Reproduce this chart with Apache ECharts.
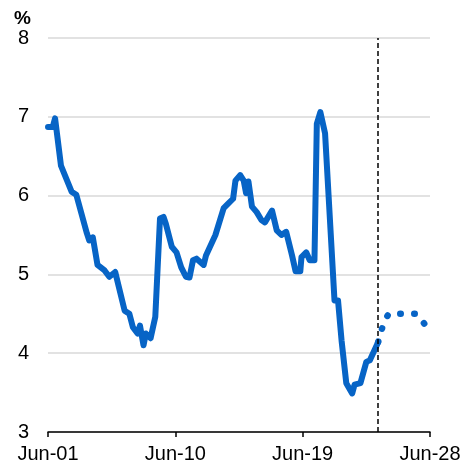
<!DOCTYPE html>
<html>
<head>
<meta charset="utf-8">
<script src="https://cdn.jsdelivr.net/npm/echarts@6/dist/echarts.min.js"></script>
<style>html,body{margin:0;padding:0;background:#fff}#c{width:465px;height:468px}</style>
</head>
<body>
<div id="c"></div>
<script>
// Actual series (month, value %)
var actualDates = ['2001-06','2001-10','2001-12','2002-05','2003-02','2003-06','2004-03','2004-05','2004-08','2004-12',
  '2005-06','2005-10','2006-03','2006-11','2007-03','2007-06','2007-10','2007-12','2008-03','2008-05',
  '2008-09','2009-01','2009-05','2009-08','2009-10','2010-03','2010-07','2010-11','2011-03','2011-06',
  '2011-09','2011-12','2012-06','2012-08','2013-04','2013-11','2014-03','2014-07','2014-09','2015-01',
  '2015-04','2015-06','2015-08','2015-11','2016-03','2016-07','2016-10','2017-04','2017-08','2017-12',
  '2018-04','2018-09','2018-12','2019-04','2019-05','2019-09','2019-12','2020-04','2020-06','2020-09',
  '2021-01','2021-09','2021-12','2022-03','2022-07','2022-12','2023-02','2023-07','2023-12','2024-03','2024-10'];
var actualValues = [6.87,6.87,6.98,6.38,6.05,6.01,5.52,5.43,5.47,5.12,
  5.05,4.97,5.03,4.54,4.50,4.33,4.25,4.35,4.10,4.25,
  4.19,4.46,5.71,5.73,5.64,5.35,5.28,5.09,4.97,4.96,
  5.18,5.20,5.12,5.24,5.50,5.84,5.90,5.96,6.19,6.26,
  6.19,6.03,6.18,5.86,5.79,5.69,5.66,5.81,5.56,5.50,
  5.54,5.24,5.04,5.04,5.22,5.28,5.18,5.18,6.91,7.06,
  6.79,4.67,4.67,4.16,3.62,3.49,3.60,3.62,3.89,3.91,4.14];
// Forecast series
var forecastDates = ['2024-10','2025-01','2025-04','2025-07','2027-06','2028-02'];
var forecastValues = [4.14,4.30,4.43,4.50,4.50,4.36];
// Forecast start marker
var forecastStart = '2024-10';
// Axis ticks
var xTickDates = ['2001-06','2010-06','2019-06','2028-06'];
var xTickLabels = ['Jun-01','Jun-10','Jun-19','Jun-28'];
var yTicks = [3,4,5,6,7,8];

function mIdx(s){var p=s.split('-');return (parseInt(p[0])-2001)*12+(parseInt(p[1])-6);}
function pairs(d,v){return d.map(function(x,i){return [mIdx(x),v[i]];});}
var tickIdx = xTickDates.map(mIdx);
var labelMap = {}; tickIdx.forEach(function(t,i){labelMap[t]=xTickLabels[i];});

var blue = '#0764c6';
var chart = echarts.init(document.getElementById('c'));
chart.setOption({
  animation:false,
  grid:{left:48,right:35,top:38,bottom:36},
  graphic:[{type:'text',left:14,top:9,style:{text:'%',font:'bold 19px Arial, "Liberation Sans", sans-serif',fill:'#000'}}],
  xAxis:{type:'value',min:tickIdx[0],max:tickIdx[tickIdx.length-1],interval:tickIdx[1]-tickIdx[0],
    axisLine:{show:true,lineStyle:{color:'#000',width:1.5}},
    axisTick:{show:true,length:5,lineStyle:{color:'#000',width:1.5}},
    splitLine:{show:false},
    axisLabel:{margin:12,fontSize:20,color:'#000',fontFamily:'Arial, "Liberation Sans", sans-serif',
      formatter:function(v){return labelMap[v]||'';}}},
  yAxis:{type:'value',min:yTicks[0],max:yTicks[yTicks.length-1],interval:1,
    axisLine:{show:false},axisTick:{show:false},
    splitLine:{show:true,lineStyle:{color:'#d9d9d9',width:1.5}},
    axisLabel:{margin:19,fontSize:20,color:'#000',fontFamily:'Arial, "Liberation Sans", sans-serif'}},
  series:[
    {type:'line',data:pairs(actualDates,actualValues),showSymbol:false,smooth:false,
      lineStyle:{color:blue,width:6,join:'round',cap:'round'},
      markLine:{silent:true,symbol:'none',label:{show:false},
        lineStyle:{color:'#000',type:[5,3],width:1.5},
        data:[{xAxis:mIdx(forecastStart)}]}},
    {type:'line',data:pairs(forecastDates,forecastValues),showSymbol:false,
      lineStyle:{color:blue,width:6.5,type:[0.5,13.5],cap:'round',join:'round'}}
  ]
});
</script>
</body>
</html>
